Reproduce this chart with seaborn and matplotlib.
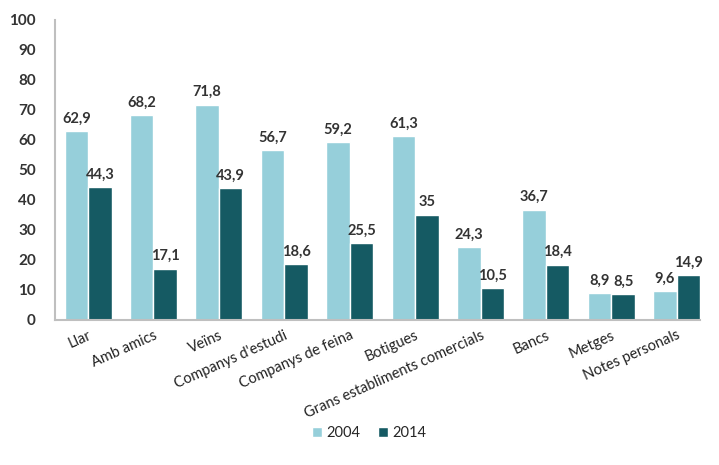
import pandas as pd
import seaborn as sns
import matplotlib.pyplot as plt

categories = ["Llar", "Amb amics", "Veïns", "Companys d'estudi", "Companys de feina",
              "Botigues", "Grans establiments comercials", "Bancs", "Metges", "Notes personals"]
years = ["2004", "2014"]
vals_2004 = [62.9, 68.2, 71.8, 56.7, 59.2, 61.3, 24.3, 36.7, 8.9, 9.6]
vals_2014 = [44.3, 17.1, 43.9, 18.6, 25.5, 35, 10.5, 18.4, 8.5, 14.9]
labels_2004 = ["62,9", "68,2", "71,8", "56,7", "59,2", "61,3", "24,3", "36,7", "8,9", "9,6"]
labels_2014 = ["44,3", "17,1", "43,9", "18,6", "25,5", "35", "10,5", "18,4", "8,5", "14,9"]

df = pd.DataFrame({
    "cat": categories * 2,
    "any": [years[0]] * len(categories) + [years[1]] * len(categories),
    "valor": vals_2004 + vals_2014,
})

sns.set_style("white")
plt.rcParams["font.family"] = ["Lato", "DejaVu Sans"]

fig = plt.figure(figsize=(7.19, 4.65), dpi=100)
ax = fig.add_axes([0.077, 0.312, 0.897, 0.645])
sns.barplot(data=df, x="cat", y="valor", hue="any", order=categories,
            palette=["#96CFDA", "#155A63"], width=0.72, saturation=1, ax=ax)

for cont, labs in zip(ax.containers, [labels_2004, labels_2014]):
    ax.bar_label(cont, labels=labs, padding=4, fontsize=10.5, fontweight="bold", color="#333333")

ax.set_ylim(0, 100)
ax.set_yticks(range(0, 101, 10))
ax.set_xlim(-0.5, 9.36)
ax.set_xlabel("")
ax.set_ylabel("")
ax.tick_params(axis="y", labelsize=11, length=0, pad=14, colors="#333333")
for t in ax.get_yticklabels():
    t.set_fontweight("bold")
ax.tick_params(axis="x", length=0, pad=6)
ax.set_xticks(range(len(categories)))
ax.set_xticklabels(categories, rotation=24, ha="right", rotation_mode="anchor",
                   fontsize=10.5, color="#222222")
for s in ["top", "right"]:
    ax.spines[s].set_visible(False)
for s in ["left", "bottom"]:
    ax.spines[s].set_color("#BFBFBF")
    ax.spines[s].set_linewidth(1.5)

ax.legend(loc="center", bbox_to_anchor=(0.487, -0.377), ncol=2, frameon=False,
          fontsize=10.5, handlelength=0.7, handleheight=0.7, handletextpad=0.3,
          columnspacing=1.2)

fig.savefig("out.png", dpi=100)
